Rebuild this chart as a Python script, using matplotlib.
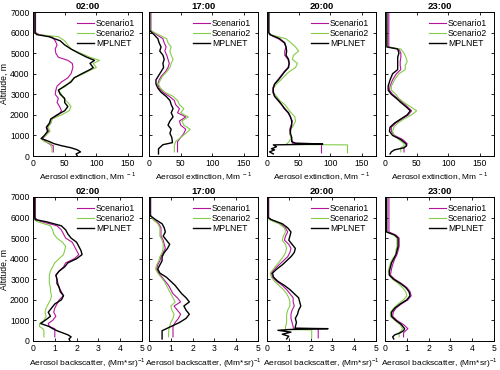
import matplotlib
matplotlib.use('Agg')
from matplotlib import pyplot as plt

plt.rcParams['font.family'] = ['Liberation Sans', 'DejaVu Sans']
plt.rcParams['font.size'] = 6
plt.rcParams['mathtext.fontset'] = 'custom'
plt.rcParams['mathtext.rm'] = 'Liberation Sans'

times = ['02:00', '17:00', '20:00', '23:00']
labels = ['Scenario1', 'Scenario2', 'MPLNET']
colors = ['#B4139E', '#86CC4A', '#000000']

# extinction, 02:00
alt_e1 = [7000, 6000, 5900, 5800, 5600, 5400, 5200, 5000, 4800, 4650, 4500, 4300, 4200, 4000, 3800, 3600, 3400, 3200,
          3000, 2800, 2600, 2400, 2200, 2000, 1800, 1600, 1400, 1200, 1000, 850, 700, 600, 500, 400, 300, 200]
s1_e1 = [4, 4, 10, 30, 35, 38, 35, 36, 40, 55, 62, 63, 62, 60, 55, 45, 38, 36, 35, 40, 38, 42, 45, 40, 30, 28, 22, 25,
         20, 15, 20, 25, 32, 32, 32, 32]
s2_e1 = [1, 1, 8, 40, 50, 55, 60, 75, 90, 105, 95, 100, 92, 80, 65, 58, 52, 40, 45, 48, 55, 60, 57, 45, 30, 28, 24, 27,
         20, 12, 18, 28, 28, 30, 30, 30]
alt_m1 = alt_e1 + [100, 0]
mp_e1 = [3, 3, 6, 25, 43, 50, 60, 72, 85, 97, 90, 95, 90, 77, 65, 60, 50, 40, 43, 50, 50, 55, 50, 38, 28, 26, 21, 23,
         18, 13, 26, 33, 45, 60, 70, 75, 68, 70]

# extinction, 17:00
alt_e2 = [7000, 6100, 5900, 5700, 5500, 5300, 5100, 4900, 4700, 4500, 4300, 4100, 3900, 3700, 3500, 3300, 3100, 2900,
          2700, 2500, 2300, 2100, 1900, 1700, 1500, 1300, 1100, 900, 700, 500, 300, 200]
s1_e2 = [3, 3, 12, 22, 24, 27, 25, 28, 30, 32, 30, 26, 20, 16, 14, 16, 22, 32, 40, 42, 48, 45, 58, 48, 50, 58, 55, 50,
         45, 45, 45, 45]
s2_e2 = [2, 2, 15, 28, 30, 35, 33, 35, 38, 35, 33, 28, 22, 18, 15, 18, 25, 38, 45, 48, 55, 50, 62, 52, 55, 65, 58, 50,
         42, 40, 40, 40]
alt_m2 = [7000, 6100, 5900, 5700, 5500, 5300, 5100, 4900, 4700, 4500, 4300, 4100, 3900, 3700, 3500, 3300, 3100, 2900,
          2700, 2500, 2300, 2100, 1900, 1700, 1500, 1300, 1100, 900, 650, 550, 350, 100]
mp_e2 = [1, 1, 8, 14, 16, 19, 17, 22, 24, 22, 23, 19, 15, 11, 11, 14, 19, 27, 33, 35, 38, 35, 38, 33, 30, 35, 33, 36,
         37, 22, 15, 15]

# extinction, 20:00
alt_e3 = [7000, 6000, 5900, 5700, 5500, 5300, 5100, 4900, 4700, 4500, 4300, 4100, 3900, 3700, 3500, 3300, 3100, 2900,
          2700, 2500, 2300, 2100, 1900, 1700, 1500, 1300, 1100, 900, 700]
s1_e3 = [2, 2, 4, 18, 27, 30, 28, 28, 33, 35, 33, 27, 22, 17, 12, 9, 9, 12, 17, 23, 27, 33, 37, 40, 38, 36, 36, 38, 40,
         40, 86, 86]
alt_s1_e3 = alt_e3 + [620, 600, 150]
s2_e3 = [1, 1, 5, 30, 38, 45, 50, 42, 40, 48, 45, 35, 28, 22, 15, 10, 10, 15, 20, 28, 33, 38, 44, 45, 42, 38, 36, 38, 35,
         30, 127, 127]
alt_s2_e3 = alt_e3 + [560, 540, 150]
mp_e3 = [3, 3, 5, 20, 28, 30, 31, 30, 34, 35, 34, 28, 23, 18, 12, 10, 10, 12, 18, 23, 28, 34, 37, 39, 39, 37, 37, 39, 39,
         45, 88, 10, 15, 7, 12, 4, 10]
alt_m3 = alt_e3 + [620, 580, 540, 450, 350, 300, 200, 100]

# extinction, 23:00
alt_e4 = [7000, 5300, 5200, 5000, 4800, 4600, 4400, 4200, 4000, 3700, 3400, 3200, 3000, 2800, 2600, 2400, 2200, 2000,
          1800, 1600, 1400, 1200, 1000, 800, 600, 500, 400, 200]
s1_e4 = [6, 6, 22, 25, 25, 24, 24, 25, 18, 12, 8, 7, 12, 20, 28, 35, 42, 37, 27, 17, 10, 10, 15, 28, 35, 34, 30, 30]
s2_e4 = [2, 3, 25, 30, 33, 35, 32, 32, 22, 15, 10, 10, 17, 22, 30, 40, 50, 42, 30, 20, 14, 12, 14, 22, 30, 30, 25, 25]
alt_m4 = alt_e4[:-1] + [300, 200, 100]
mp_e4 = [3, 3, 20, 22, 20, 20, 20, 20, 12, 8, 5, 5, 10, 18, 25, 33, 40, 35, 25, 15, 8, 7, 12, 25, 33, 34, 30, 15, 10, 8]

# backscatter, 02:00
alt_b1 = [7000, 6000, 5900, 5800, 5600, 5400, 5200, 5000, 4800, 4600, 4400, 4200, 4000, 3800, 3600, 3400, 3200, 3000,
          2800, 2600, 2400, 2200, 2000, 1800, 1600, 1400, 1200, 1000, 850, 700, 600, 500, 400, 300, 200]
s1_b1 = [0.1, 0.1, 0.15, 0.4, 1.1, 1.3, 1.4, 1.5, 1.8, 1.9, 2.0, 2.1, 1.9, 1.5, 1.4, 1.2, 1.05, 1.1, 1.15, 1.2, 1.3,
         1.4, 1.2, 1.1, 1.0, 0.95, 1.05, 0.9, 0.7, 0.75, 1.0, 1.0, 1.0, 1.0, 1.0]
s2_b1 = [0.03, 0.03, 0.08, 0.2, 0.8, 0.9, 0.95, 1.1, 1.35, 1.5, 1.45, 1.4, 1.2, 1.0, 0.9, 0.8, 0.75, 0.75, 0.75, 0.8,
         0.8, 0.85, 0.8, 0.7, 0.6, 0.55, 0.6, 0.5, 0.3, 0.3, 0.45, 0.5, 0.5, 0.5, 0.5]
alt_mb1 = alt_b1 + [100, 0]
mp_b1 = [0.08, 0.08, 0.1, 0.6, 1.3, 1.5, 1.6, 1.75, 2.0, 2.1, 2.2, 2.25, 2.0, 1.6, 1.45, 1.2, 1.05, 1.1, 1.1, 1.2, 1.25,
         1.4, 1.3, 1.0, 0.85, 0.7, 0.8, 0.55, 0.35, 0.75, 0.9, 1.1, 1.35, 1.6, 1.75, 1.65, 1.7]

# backscatter, 17:00
alt_b2 = alt_e2
s1_b2 = [0.08, 0.08, 0.2, 0.45, 0.55, 0.55, 0.55, 0.65, 0.7, 0.75, 0.65, 0.55, 0.5, 0.4, 0.35, 0.45, 0.6, 0.75, 0.9,
         1.0, 1.1, 1.3, 1.45, 1.15, 1.3, 1.45, 1.35, 1.2, 1.1, 1.1, 1.1, 1.1]
s2_b2 = [0.05, 0.05, 0.2, 0.4, 0.5, 0.5, 0.5, 0.6, 0.65, 0.65, 0.6, 0.5, 0.45, 0.35, 0.3, 0.4, 0.55, 0.7, 0.8, 0.9,
         1.0, 1.1, 1.2, 1.0, 1.05, 1.15, 1.1, 1.0, 0.95, 0.9, 0.9, 0.9]
alt_mb2 = alt_e2[:-1] + [100]
mp_b2 = [0.05, 0.05, 0.3, 0.6, 0.7, 0.75, 0.65, 0.8, 0.95, 0.85, 0.7, 0.6, 0.6, 0.5, 0.4, 0.5, 0.8, 1.0, 1.2, 1.35,
         1.5, 1.7, 1.85, 1.6, 1.7, 1.85, 1.7, 1.4, 1.0, 0.6, 0.6, 0.6]

# backscatter, 20:00
s1_b3 = [0.08, 0.08, 0.15, 0.6, 0.85, 0.95, 0.85, 0.8, 1.0, 1.1, 1.05, 0.95, 0.75, 0.55, 0.35, 0.2, 0.25, 0.45, 0.7,
         0.9, 1.05, 1.2, 1.2, 1.25, 1.15, 1.1, 1.1, 1.15, 1.2, 1.2, 2.35, 2.35]
s2_b3 = [0.03, 0.03, 0.1, 0.55, 0.8, 0.85, 0.75, 0.7, 0.85, 0.9, 0.85, 0.75, 0.6, 0.45, 0.3, 0.15, 0.2, 0.35, 0.55,
         0.75, 0.9, 1.0, 1.05, 1.05, 0.95, 0.9, 0.9, 0.9, 0.85, 0.85, 2.05, 2.05]
alt_mb3 = alt_e3 + [620, 600, 560, 520, 430, 330, 230, 100]
mp_b3 = [0.05, 0.05, 0.2, 0.7, 0.95, 1.1, 1.05, 1.0, 1.15, 1.3, 1.25, 1.1, 0.9, 0.7, 0.45, 0.25, 0.3, 0.5, 0.8, 1.05,
         1.25, 1.45, 1.5, 1.55, 1.45, 1.4, 1.3, 1.35, 1.3, 1.3, 2.8, 1.05, 0.5, 1.1, 0.7, 1.0, 0.9]

# backscatter, 23:00
alt_b4 = [7000, 5300, 5150, 5000, 4800, 4600, 4400, 4200, 4000, 3800, 3600, 3400, 3200, 3000, 2800, 2600, 2400, 2200,
          2000, 1800, 1600, 1400, 1200, 1000, 800, 600, 500, 400, 200]
s1_b4 = [0.18, 0.18, 0.5, 0.65, 0.65, 0.65, 0.6, 0.55, 0.45, 0.38, 0.32, 0.28, 0.25, 0.45, 0.75, 1.0, 1.15, 1.2, 1.05,
         0.75, 0.5, 0.38, 0.35, 0.55, 0.85, 1.05, 0.95, 0.85, 0.85]
s2_b4 = [0.05, 0.05, 0.4, 0.55, 0.55, 0.55, 0.5, 0.5, 0.35, 0.25, 0.2, 0.15, 0.2, 0.35, 0.6, 0.8, 0.95, 1.0, 0.85, 0.6,
         0.4, 0.25, 0.25, 0.45, 0.7, 0.8, 0.75, 0.65, 0.65]
alt_mb4 = alt_b4[:-1] + [300, 200, 100]
mp_b4 = [0.08, 0.08, 0.45, 0.6, 0.6, 0.6, 0.55, 0.5, 0.4, 0.3, 0.25, 0.2, 0.2, 0.4, 0.7, 0.95, 1.1, 1.15, 1.0, 0.7,
         0.45, 0.3, 0.3, 0.5, 0.75, 0.9, 0.85, 0.7, 0.45, 0.35, 0.4]

top_row = [
    [(s1_e1, alt_e1), (s2_e1, alt_e1), (mp_e1, alt_m1)],
    [(s1_e2, alt_e2), (s2_e2, alt_e2), (mp_e2, alt_m2)],
    [(s1_e3, alt_s1_e3), (s2_e3, alt_s2_e3), (mp_e3, alt_m3)],
    [(s1_e4, alt_e4), (s2_e4, alt_e4), (mp_e4, alt_m4)],
]
bottom_row = [
    [(s1_b1, alt_b1), (s2_b1, alt_b1), (mp_b1, alt_mb1)],
    [(s1_b2, alt_b2), (s2_b2, alt_b2), (mp_b2, alt_mb2)],
    [(s1_b3, alt_s1_e3), (s2_b3, alt_s2_e3), (mp_b3, alt_mb3)],
    [(s1_b4, alt_b4), (s2_b4, alt_b4), (mp_b4, alt_mb4)],
]

fig = plt.figure(figsize=(5, 3.7), dpi=100)
lefts = [33, 149, 267, 385]
W, H = 500., 370.

for row, data, bot, xmax, xticks, xlab in [
        (0, top_row, 156, 172, [0, 50, 100, 150], 'Aerosol extinction, Mm$^{\\ -1}$'),
        (1, bottom_row, 341, 5, [0, 1, 2, 3, 4, 5], 'Aerosol backscatter, (Mm*sr)$^{-1}$')]:
    for i in range(4):
        ax = fig.add_axes([lefts[i] / W, 1 - bot / H, 109 / W, 144 / H])
        for (vals, alts), c, lab in zip(data[i], colors, labels):
            lw = 1.0 if lab == 'MPLNET' else 0.8
            ax.plot(vals, alts, color=c, linewidth=lw, label=lab)
        ax.set_xlim(0, xmax)
        ax.set_ylim(0, 7000)
        ax.set_xticks(xticks)
        ax.set_yticks(range(0, 7001, 1000))
        ax.tick_params(direction='in', length=2.5, width=0.6, top=True, right=True, labelsize=6.2, pad=2.5)
        for s in ax.spines.values():
            s.set_linewidth(0.7)
        if i == 0:
            ax.set_ylabel('Altitude, m', fontsize=6.2)
            ax.yaxis.set_label_coords(-0.22, 0.5)
        else:
            ax.set_yticklabels([])
        ax.set_xlabel(xlab, fontsize=6, labelpad=1.5)
        ax.set_title(times[i], fontsize=6.8, fontweight='bold', pad=2)
        ax.legend(loc='upper right', frameon=False, fontsize=6.2, handlelength=2.0, handletextpad=0.2,
                  labelspacing=0.15, borderaxespad=0.4)

plt.savefig('out.png', dpi=100)
